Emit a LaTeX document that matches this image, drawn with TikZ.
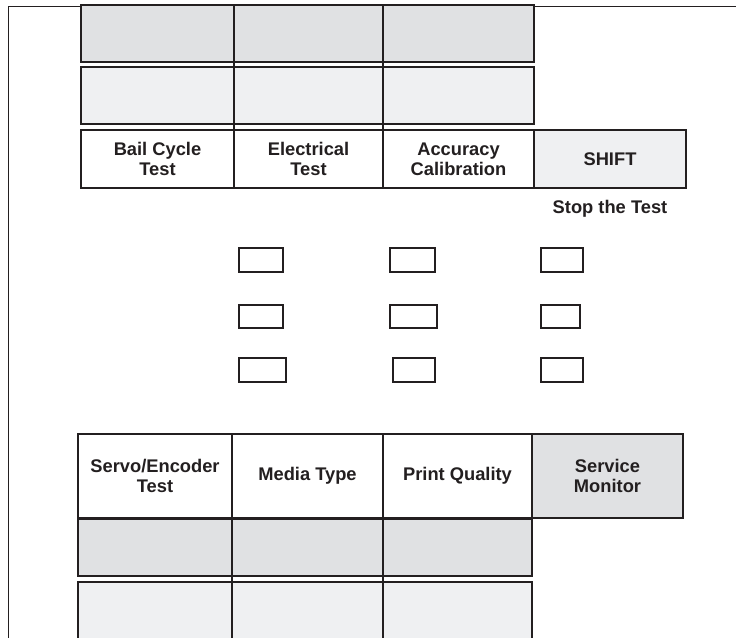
\documentclass[tikz,border=0pt]{standalone}
\usepackage{fontspec}
\setmainfont{Liberation Sans}
\usetikzlibrary{positioning}
\definecolor{KeyDark}{HTML}{E0E1E3}
\definecolor{KeyLight}{HTML}{EFF0F2}
\definecolor{Ink}{HTML}{231F20}
\tikzset{
  cell/.style={draw=Ink,line width=1.3pt,inner sep=0pt,outer sep=0pt,minimum height=57pt,align=center,font=\fontsize{18.3}{20}\selectfont\bfseries,text=Ink},
  keybox/.style={draw=Ink,line width=1.1pt,inner sep=0pt,outer sep=0pt,minimum width=44pt,minimum height=24pt},
  divider/.style={draw=Ink,line width=1.6pt},
}

\begin{document}
\begin{tikzpicture}[x=1pt,y=-1pt,node distance=0pt]
\clip (0,0) rectangle (736,637);
\fill[white] (0,0) rectangle (736,637);
% frame
\draw[Ink,line width=1pt] (736,6) -- (8,6) -- (8,660);
% top keys
\node[cell,fill=KeyDark,minimum width=153pt,anchor=north west] (t1a) at (81,5) {};
\node[cell,fill=KeyDark,minimum width=149pt,right=of t1a] (t1b) {};
\node[cell,fill=KeyDark,minimum width=151pt,right=of t1b] (t1c) {};
\node[cell,fill=KeyLight,minimum width=153pt,below=5pt of t1a] (t2a) {};
\node[cell,fill=KeyLight,minimum width=149pt,right=of t2a] (t2b) {};
\node[cell,fill=KeyLight,minimum width=151pt,right=of t2b] (t2c) {};
\node[cell,fill=white,minimum width=153pt,minimum height=58pt,below=6pt of t2a] (bail) {Bail Cycle\\Test};
\node[cell,fill=white,minimum width=149pt,minimum height=58pt,right=of bail] (elec) {Electrical\\Test};
\node[cell,fill=white,minimum width=151pt,minimum height=58pt,right=of elec] (accu) {Accuracy\\Calibration};
\node[cell,fill=KeyLight,minimum width=152pt,minimum height=58pt,right=of accu] (shift) {SHIFT};
\node[font=\fontsize{18.3}{20}\selectfont\bfseries,text=Ink,below=9pt of shift] (stop) {Stop the Test};
\draw[divider] (t1a.north east) -- (bail.south east);
\draw[divider] (t1b.north east) -- (elec.south east);
% small keys
\node[keybox] (k11) at (261,260) {};
\node[keybox,minimum width=45pt] (k12) at (412.5,260) {};
\node[keybox,minimum width=42pt] (k13) at (562,260) {};
\node[keybox,minimum height=23pt] (k21) at (261,316.5) {};
\node[keybox,minimum width=47pt,minimum height=23pt] (k22) at (413.5,316.5) {};
\node[keybox,minimum width=39pt,minimum height=23pt] (k23) at (560.5,316.5) {};
\node[keybox,minimum width=47pt] (k31) at (262.5,370) {};
\node[keybox,minimum width=42pt] (k32) at (414,370) {};
\node[keybox,minimum width=42pt] (k33) at (562,370) {};
% bottom keys
\node[cell,fill=white,minimum width=154pt,minimum height=84pt,anchor=north west] (servo) at (78,434) {Servo/Encoder\\Test};
\node[cell,fill=white,minimum width=151pt,minimum height=84pt,right=of servo] (media) {Media Type};
\node[cell,fill=white,minimum width=149pt,minimum height=84pt,right=of media] (print) {Print Quality};
\node[cell,fill=KeyDark,minimum width=151pt,minimum height=84pt,right=of print] (serv) {Service\\Monitor};
\node[cell,fill=KeyDark,minimum width=154pt,below=1pt of servo] (b2a) {};
\node[cell,fill=KeyDark,minimum width=151pt,right=of b2a] (b2b) {};
\node[cell,fill=KeyDark,minimum width=149pt,right=of b2b] (b2c) {};
\node[cell,fill=KeyLight,minimum width=154pt,minimum height=80pt,below=6pt of b2a] (b3a) {};
\node[cell,fill=KeyLight,minimum width=151pt,minimum height=80pt,right=of b3a] (b3b) {};
\node[cell,fill=KeyLight,minimum width=149pt,minimum height=80pt,right=of b3b] (b3c) {};
\draw[divider] (servo.north east) -- (b3a.south east);
\draw[divider] (media.north east) -- (b3b.south east);
\end{tikzpicture}
\end{document}
